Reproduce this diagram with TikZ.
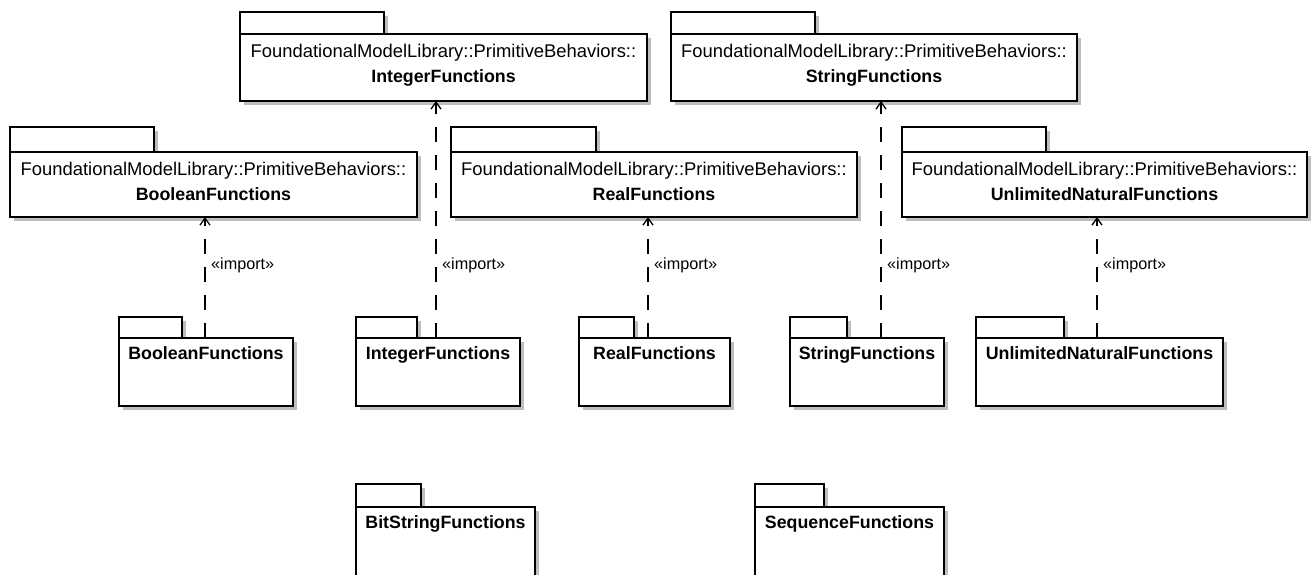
\documentclass[tikz,border=0pt]{standalone}
\usepackage{fontspec}
\setmainfont{Liberation Sans}
\usetikzlibrary{arrows.meta,shadows,calc}
\definecolor{shadowgray}{RGB}{190,190,190}
\begin{document}
\begin{tikzpicture}[x=1pt,y=-1pt,
  pkgpart/.style={draw=black, line width=1.3pt, fill=white, inner sep=0pt, outer sep=0pt, anchor=north west,
    drop shadow={shadow xshift=4pt, shadow yshift=-4pt, fill=shadowgray, opacity=1}},
  regtext/.style={font=\fontsize{18.4}{21}\selectfont, inner sep=0pt, anchor=base},
  boldtext/.style={font=\fontsize{17.8}{20}\selectfont\bfseries, inner sep=0pt, anchor=base},
  lbl/.style={font=\fontsize{16.2}{18}\selectfont, inner sep=0pt, anchor=base west},
  imp/.style={line width=1.3pt, dash pattern=on 15pt off 13pt, -{Straight Barb[length=7pt,width=10pt,line width=1.3pt]}}
]
\clip (0,0) rectangle (1311,574);
\fill[white] (0,0) rectangle (1311,574);
\newcommand\pkgbox[7]{%
  \node[pkgpart, minimum width={#4-#2}, minimum height={#5-#3}] (#1-tab) at (#2,#3) {};
  \node[pkgpart, minimum width={#6-#2}, minimum height={#7-#5}] (#1) at (#2,#5) {};
}
\newcommand\toptext[2]{%
  \node[regtext] (#1-qual) at ($(#1.north)+(0,23)$) {FoundationalModelLibrary::PrimitiveBehaviors::};
  \node[boldtext] (#1-name) at ($(#1.north)+(0,48)$) {#2};
}
\newcommand\bottext[2]{%
  \node[boldtext] (#1-name) at ($(#1.north)+(0,21)$) {#2};
}
% top row packages
\pkgbox{tint}{240}{12}{384}{34}{647}{101}
\toptext{tint}{IntegerFunctions}
\pkgbox{tstr}{671}{12}{815}{34}{1077}{101}
\toptext{tstr}{StringFunctions}
\pkgbox{tbool}{10}{127}{154}{152}{417}{217}
\toptext{tbool}{BooleanFunctions}
\pkgbox{treal}{451}{127}{596}{152}{857}{217}
\toptext{treal}{RealFunctions}
\pkgbox{tun}{902}{127}{1046}{152}{1307}{217}
\toptext{tun}{UnlimitedNaturalFunctions}
% bottom packages
\pkgbox{bbool}{119}{317}{182}{338}{293}{406}
\bottext{bbool}{BooleanFunctions}
\pkgbox{bint}{356}{317}{417}{338}{520}{406}
\bottext{bint}{IntegerFunctions}
\pkgbox{breal}{579}{317}{634}{338}{730}{406}
\bottext{breal}{RealFunctions}
\pkgbox{bstr}{790}{317}{847}{338}{944}{406}
\bottext{bstr}{StringFunctions}
\pkgbox{bun}{976}{317}{1064}{338}{1223}{406}
\bottext{bun}{UnlimitedNaturalFunctions}
\pkgbox{bbit}{356}{484}{421}{507}{535}{600}
\bottext{bbit}{BitStringFunctions}
\pkgbox{bseq}{755}{484}{824}{507}{944}{600}
\bottext{bseq}{SequenceFunctions}
% import dependencies
\coordinate (xbool) at (205,0);
\coordinate (xint) at (436,0);
\coordinate (xreal) at (648,0);
\coordinate (xstr) at (881,0);
\coordinate (xun) at (1097,0);
\draw[imp] (bbool.north -| xbool) -- (tbool.south -| xbool);
\node[lbl] (lbool) at ($(bbool.north -| xbool)+(6,-69)$) {«import»};
\draw[imp] (bint.north -| xint) -- (tint.south -| xint);
\node[lbl] (lint) at ($(bint.north -| xint)+(6,-69)$) {«import»};
\draw[imp] (breal.north -| xreal) -- (treal.south -| xreal);
\node[lbl] (lreal) at ($(breal.north -| xreal)+(6,-69)$) {«import»};
\draw[imp] (bstr.north -| xstr) -- (tstr.south -| xstr);
\node[lbl] (lstr) at ($(bstr.north -| xstr)+(6,-69)$) {«import»};
\draw[imp] (bun.north -| xun) -- (tun.south -| xun);
\node[lbl] (lun) at ($(bun.north -| xun)+(6,-69)$) {«import»};
\end{tikzpicture}
\end{document}
